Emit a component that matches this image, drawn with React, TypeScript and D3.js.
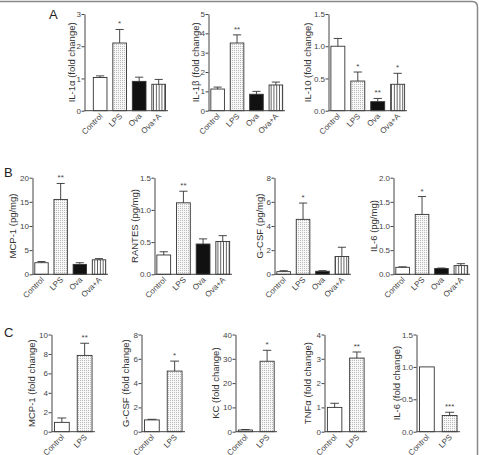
import React, {useEffect, useRef} from 'react';
import * as d3 from 'd3';

// groups
const groups4 = ["Control", "LPS", "Ova", "Ova+A"];
const groups2 = ["Control", "LPS"];

// Panel A (fold change)
const il1aMean = [1.03, 2.1, 0.91, 0.82];
const il1aSem = [0.05, 0.42, 0.13, 0.15];
const il1aStars = ["", "*", "", ""];
const il1bMean = [1.12, 3.5, 0.85, 1.33];
const il1bSem = [0.1, 0.42, 0.15, 0.15];
const il1bStars = ["", "**", "", ""];
const il10Mean = [1.0, 0.46, 0.14, 0.41];
const il10Sem = [0.12, 0.14, 0.05, 0.17];
const il10Stars = ["", "*", "**", "*"];

// Panel B (pg/mg)
const mcp1Mean = [2.4, 15.5, 2.05, 3.0];
const mcp1Sem = [0.25, 3.3, 0.35, 0.25];
const mcp1Stars = ["", "**", "", ""];
const rantesMean = [0.3, 1.11, 0.47, 0.51];
const rantesSem = [0.05, 0.18, 0.08, 0.09];
const rantesStars = ["", "**", "", ""];
const gcsfMean = [0.22, 4.55, 0.25, 1.47];
const gcsfSem = [0.08, 1.35, 0.05, 0.77];
const gcsfStars = ["", "*", "", ""];
const il6Mean = [0.145, 1.24, 0.12, 0.18];
const il6Sem = [0.01, 0.37, 0.01, 0.04];
const il6Stars = ["", "*", "", ""];

// Panel C (fold change)
const mcp1FcMean = [0.96, 7.85];
const mcp1FcSem = [0.45, 1.25];
const mcp1FcStars = ["", "**"];
const gcsfFcMean = [0.97, 4.99];
const gcsfFcSem = [0.05, 0.82];
const gcsfFcStars = ["", "*"];
const kcMean = [0.7, 29];
const kcSem = [0.2, 4.5];
const kcStars = ["", "*"];
const tnfMean = [1.0, 3.03];
const tnfSem = [0.17, 0.25];
const tnfStars = ["", "**"];
const il6FcMean = [1.0, 0.25];
const il6FcSem = [0, 0.05];
const il6FcStars = ["", "***"];

interface Chart {
  label: string
  cats: string[]
  mean: number[]
  sem: number[]
  stars: string[]
  ticks: number[]
  fmt: string
  x0: number
  x1: number
  top: number
  bottom: number
  labelX: number
  po?: number
  align?: number
}

const aTop = 14, aBot = 110.7;
const bTop = 177.7, bBot = 274.3;
const cTop = 334.5, cBot = 431.7;

const charts: Chart[] = [
  {label: "IL-1\u03b1 (fold change)", cats: groups4, mean: il1aMean, sem: il1aSem, stars: il1aStars,
    ticks: [0, 1, 2, 3], fmt: "d", x0: 84.5, x1: 168, top: aTop, bottom: aBot, labelX: 72, po: 0.29, align: 0.78},
  {label: "IL-1\u03b2 (fold change)", cats: groups4, mean: il1bMean, sem: il1bSem, stars: il1bStars,
    ticks: [0, 1, 2, 3, 4, 5], fmt: "d", x0: 208.5, x1: 285, top: aTop, bottom: aBot, labelX: 196},
  {label: "IL-10 (fold change)", cats: groups4, mean: il10Mean, sem: il10Sem, stars: il10Stars,
    ticks: [0, 0.5, 1, 1.5], fmt: ".1f", x0: 328.5, x1: 407, top: aTop, bottom: aBot, labelX: 308},

  {label: "MCP-1 (pg/mg)", cats: groups4, mean: mcp1Mean, sem: mcp1Sem, stars: mcp1Stars,
    ticks: [0, 5, 10, 15, 20], fmt: "d", x0: 32.5, x1: 108, top: bTop, bottom: bBot, labelX: 13},
  {label: "RANTES (pg/mg)", cats: groups4, mean: rantesMean, sem: rantesSem, stars: rantesStars,
    ticks: [0, 0.5, 1, 1.5], fmt: ".1f", x0: 154.5, x1: 232, top: bTop, bottom: bBot, labelX: 135},
  {label: "G-CSF (pg/mg)", cats: groups4, mean: gcsfMean, sem: gcsfSem, stars: gcsfStars,
    ticks: [0, 2, 4, 6, 8], fmt: "d", x0: 274.5, x1: 351, top: bTop, bottom: bBot, labelX: 260},
  {label: "IL-6 (pg/mg)", cats: groups4, mean: il6Mean, sem: il6Sem, stars: il6Stars,
    ticks: [0, 0.5, 1, 1.5, 2], fmt: ".1f", x0: 393.5, x1: 470, top: bTop, bottom: bBot, labelX: 374},

  {label: "MCP-1 (fold change)", cats: groups2, mean: mcp1FcMean, sem: mcp1FcSem, stars: mcp1FcStars,
    ticks: [0, 2, 4, 6, 8, 10], fmt: "d", x0: 51.5, x1: 95, top: cTop, bottom: cBot, labelX: 32},
  {label: "G-CSF (fold change)", cats: groups2, mean: gcsfFcMean, sem: gcsfFcSem, stars: gcsfFcStars,
    ticks: [0, 2, 4, 6, 8], fmt: "d", x0: 141.5, x1: 185, top: cTop, bottom: cBot, labelX: 126},
  {label: "KC (fold change)", cats: groups2, mean: kcMean, sem: kcSem, stars: kcStars,
    ticks: [0, 10, 20, 30, 40], fmt: "d", x0: 235.5, x1: 277, top: cTop, bottom: cBot, labelX: 216},
  {label: "TNF\u03b1 (fold change)", cats: groups2, mean: tnfMean, sem: tnfSem, stars: tnfStars,
    ticks: [0, 1, 2, 3, 4], fmt: "d", x0: 324.5, x1: 367, top: cTop, bottom: cBot, labelX: 308},
  {label: "IL-6 (fold change)", cats: groups2, mean: il6FcMean, sem: il6FcSem, stars: il6FcStars,
    ticks: [0, 0.5, 1, 1.5], fmt: ".1f", x0: 416.5, x1: 460, top: cTop, bottom: cBot, labelX: 397},
];

const panelLetters = [
  {t: "A", x: 49, y: 19},
  {t: "B", x: 4, y: 177},
  {t: "C", x: 4, y: 337},
];

const fills: Record<string, string> = {
  "Control": "#fff",
  "LPS": "url(#dots)",
  "Ova": "#111",
  "Ova+A": "url(#stripes)",
};

const font = "'Liberation Sans', Arial, Helvetica, sans-serif";
const ink = "#444";

const App: React.FC = () => {
  const ref = useRef<SVGSVGElement>(null);

  useEffect(() => {
    const svg = d3.select(ref.current!);
    svg.selectAll("*").remove();

    const defs = svg.append("defs");
    const dots = defs.append("pattern").attr("id", "dots")
    .attr("patternUnits", "userSpaceOnUse").attr("width", 2).attr("height", 2);
    dots.append("rect").attr("width", 2).attr("height", 2).attr("fill", "#f7f7f7");
    dots.append("rect").attr("width", 1).attr("height", 1).attr("fill", "#bbb");

    const stripes = defs.append("pattern").attr("id", "stripes")
    .attr("patternUnits", "userSpaceOnUse").attr("width", 2.8).attr("height", 4);
    stripes.append("rect").attr("width", 2.8).attr("height", 4).attr("fill", "#fff");
    stripes.append("rect").attr("x", 1.9).attr("width", 0.9).attr("height", 4).attr("fill", "#555");

    // frame
    svg.append("path")
    .attr("d", "M0,1.5 H472 Q477.5,1.5 477.5,7 V455")
    .attr("fill", "none").attr("stroke", "#888").attr("stroke-width", 1.5);

    svg.selectAll("text.panel").data(panelLetters).join("text")
    .attr("class", "panel")
    .attr("x", d => d.x).attr("y", d => d.y)
    .attr("font-family", font).attr("font-size", 13).attr("fill", "#222")
    .text(d => d.t);

    charts.forEach(c => {
      const g = svg.append("g");
      const y = d3.scaleLinear([0, c.ticks[c.ticks.length - 1]], [c.bottom, c.top]);
      const two = c.cats.length === 2;
      const x = d3.scaleBand(c.cats, [c.x0, c.x1])
      .paddingInner(two ? 0.35 : 0.3)
      .paddingOuter(c.po ?? (two ? 0.13 : 0.12))
      .align(c.align ?? 0.5);

      const bw = x.bandwidth();
      const rows = c.cats.map((k, i) => ({k, m: c.mean[i], s: c.sem[i], star: c.stars[i]}));

      // bars
      g.selectAll("rect.bar").data(rows).join("rect")
      .attr("x", d => x(d.k)!)
      .attr("y", d => y(d.m))
      .attr("width", bw)
      .attr("height", d => y(0) - y(d.m))
      .attr("fill", d => fills[d.k])
      .attr("stroke", "#333").attr("stroke-width", 0.9);

      // error bars (upper only)
      const eb = g.selectAll("g.err").data(rows.filter(d => d.s > 0)).join("g");
      eb.append("line")
      .attr("x1", d => x(d.k)! + bw / 2).attr("x2", d => x(d.k)! + bw / 2)
      .attr("y1", d => y(d.m)).attr("y2", d => y(d.m + d.s))
      .attr("stroke", "#333").attr("stroke-width", 0.9);
      eb.append("line")
      .attr("x1", d => x(d.k)! + bw / 2 - bw * 0.3).attr("x2", d => x(d.k)! + bw / 2 + bw * 0.3)
      .attr("y1", d => y(d.m + d.s)).attr("y2", d => y(d.m + d.s))
      .attr("stroke", "#333").attr("stroke-width", 0.9);

      // significance stars
      g.selectAll("text.star").data(rows.filter(d => d.star)).join("text")
      .attr("x", d => x(d.k)! + bw / 2)
      .attr("y", d => y(d.m + d.s) - 3)
      .attr("text-anchor", "middle")
      .attr("font-family", font).attr("font-size", 8).attr("fill", ink)
      .text(d => d.star);

      // y axis
      g.append("g")
      .attr("transform", `translate(${c.x0},0)`)
      .call(d3.axisLeft(y).tickValues(c.ticks).tickFormat(d3.format(c.fmt) as any).tickSize(3).tickSizeOuter(0))
      .call(a => a.select(".domain").attr("stroke", ink))
      .call(a => a.selectAll(".tick line").attr("stroke", ink))
      .call(a => a.selectAll(".tick text").attr("fill", ink).attr("font-family", font).attr("font-size", 8).attr("x", -3.5));

      // x axis baseline
      g.append("line")
      .attr("x1", c.x0).attr("x2", c.x1)
      .attr("y1", y(0)).attr("y2", y(0))
      .attr("stroke", ink).attr("stroke-width", 1);

      // x labels
      g.selectAll("text.xl").data(rows).join("text")
      .attr("transform", d => `translate(${x(d.k)! + bw / 2 + 3},${y(0) + 6}) rotate(-45)`)
      .attr("text-anchor", "end")
      .attr("font-family", font).attr("font-size", 8).attr("fill", ink)
      .text(d => d.k);

      // y label
      g.append("text")
      .attr("transform", `translate(${c.labelX},${(c.top + c.bottom) / 2}) rotate(-90)`)
      .attr("text-anchor", "middle")
      .attr("dominant-baseline", "middle")
      .attr("font-family", font).attr("font-size", 9.5).attr("fill", "#333")
      .text(c.label);
    });
  }, []);

  return <svg ref={ref} width={479} height={455}
              style={{position: "absolute", left: 0, top: 0, background: "#fff"}}/>;
};

export default App;
